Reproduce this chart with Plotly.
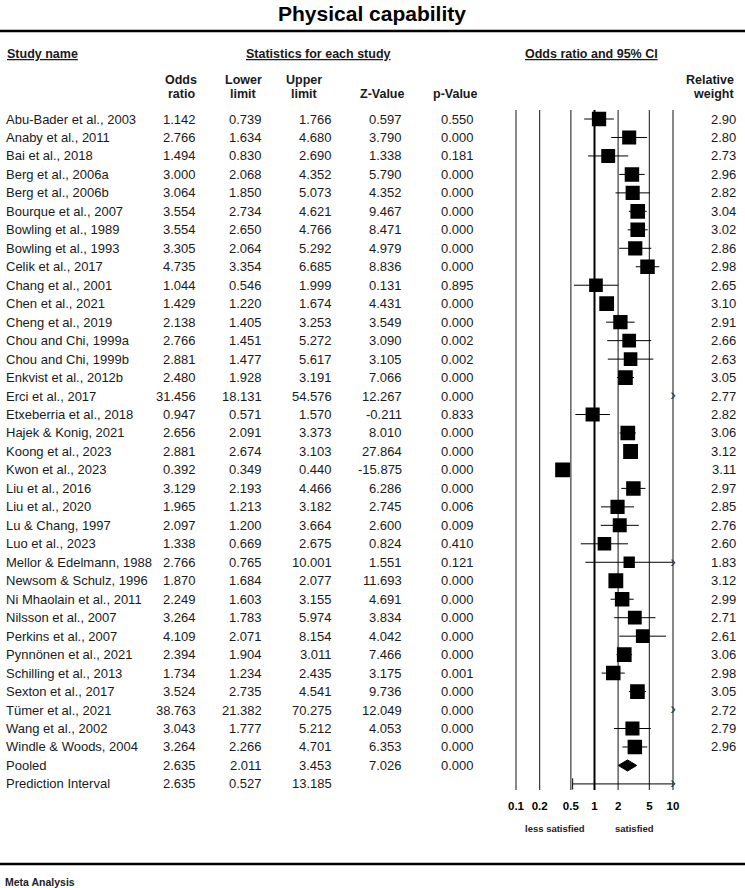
import numpy as np
import plotly.graph_objects as go

W, H = 745, 888

studies = [
    "Abu-Bader et al., 2003", "Anaby et al., 2011", "Bai et al., 2018",
    "Berg et al., 2006a", "Berg et al., 2006b", "Bourque et al., 2007",
    "Bowling et al., 1989", "Bowling et al., 1993", "Celik et al., 2017",
    "Chang et al., 2001", "Chen et al., 2021", "Cheng et al., 2019",
    "Chou and Chi, 1999a", "Chou and Chi, 1999b", "Enkvist et al., 2012b",
    "Erci et al., 2017", "Etxeberria et al., 2018", "Hajek & Konig, 2021",
    "Koong et al., 2023", "Kwon et al., 2023", "Liu et al., 2016",
    "Liu et al., 2020", "Lu & Chang, 1997", "Luo et al., 2023",
    "Mellor & Edelmann, 1988", "Newsom & Schulz, 1996", "Ni Mhaolain et al., 2011",
    "Nilsson et al., 2007", "Perkins et al., 2007", "Pynnönen et al., 2021",
    "Schilling et al., 2013", "Sexton et al., 2017", "Tümer et al., 2021",
    "Wang et al., 2002", "Windle & Woods, 2004",
]
odds_ratio = [1.142, 2.766, 1.494, 3.000, 3.064, 3.554, 3.554, 3.305, 4.735, 1.044,
              1.429, 2.138, 2.766, 2.881, 2.480, 31.456, 0.947, 2.656, 2.881, 0.392,
              3.129, 1.965, 2.097, 1.338, 2.766, 1.870, 2.249, 3.264, 4.109, 2.394,
              1.734, 3.524, 38.763, 3.043, 3.264]
lower = [0.739, 1.634, 0.830, 2.068, 1.850, 2.734, 2.650, 2.064, 3.354, 0.546,
         1.220, 1.405, 1.451, 1.477, 1.928, 18.131, 0.571, 2.091, 2.674, 0.349,
         2.193, 1.213, 1.200, 0.669, 0.765, 1.684, 1.603, 1.783, 2.071, 1.904,
         1.234, 2.735, 21.382, 1.777, 2.266]
upper = [1.766, 4.680, 2.690, 4.352, 5.073, 4.621, 4.766, 5.292, 6.685, 1.999,
         1.674, 3.253, 5.272, 5.617, 3.191, 54.576, 1.570, 3.373, 3.103, 0.440,
         4.466, 3.182, 3.664, 2.675, 10.001, 2.077, 3.155, 5.974, 8.154, 3.011,
         2.435, 4.541, 70.275, 5.212, 4.701]
z_value = [0.597, 3.790, 1.338, 5.790, 4.352, 9.467, 8.471, 4.979, 8.836, 0.131,
           4.431, 3.549, 3.090, 3.105, 7.066, 12.267, -0.211, 8.010, 27.864, -15.875,
           6.286, 2.745, 2.600, 0.824, 1.551, 11.693, 4.691, 3.834, 4.042, 7.466,
           3.175, 9.736, 12.049, 4.053, 6.353]
p_value = [0.550, 0.000, 0.181, 0.000, 0.000, 0.000, 0.000, 0.000, 0.000, 0.895,
           0.000, 0.000, 0.002, 0.002, 0.000, 0.000, 0.833, 0.000, 0.000, 0.000,
           0.000, 0.006, 0.009, 0.410, 0.121, 0.000, 0.000, 0.000, 0.000, 0.000,
           0.001, 0.000, 0.000, 0.000, 0.000]
rel_weight = [2.90, 2.80, 2.73, 2.96, 2.82, 3.04, 3.02, 2.86, 2.98, 2.65,
              3.10, 2.91, 2.66, 2.63, 3.05, 2.77, 2.82, 3.06, 3.12, 3.11,
              2.97, 2.85, 2.76, 2.60, 1.83, 3.12, 2.99, 2.71, 2.61, 3.06,
              2.98, 3.05, 2.72, 2.79, 2.96]

pooled_or, pooled_lo, pooled_hi, pooled_z, pooled_p = 2.635, 2.011, 3.453, 7.026, 0.000
pi_or, pi_lo, pi_hi = 2.635, 0.527, 13.185

x_ticks = [0.1, 0.2, 0.5, 1, 2, 5, 10]
x_tick_labels = ["0.1", "0.2", "0.5", "1", "2", "5", "10"]
x_min, x_max = 0.1, 10

# pixel geometry
ROW0, ROW_H = 119, 18.47
PLOT_L, PLOT_R = 516, 673
PAD = 0.04  # decades of padding so edge lines are not clipped
px_per_dec = (PLOT_R - PLOT_L) / 2.0

FONT = "Liberation Sans, Arial, sans-serif"
TXT = "#1a1a1a"


def row_of(py):
    return (py - ROW0) / ROW_H


def yp(py):
    return 1 - py / H


n = len(studies)
rows = np.arange(n)
pooled_row, pi_row = n, n + 1

fig = go.Figure()

# vertical reference lines
grid_top, grid_bot = row_of(110), row_of(790)
for v in x_ticks:
    fig.add_trace(go.Scatter(
        x=[v, v], y=[grid_top, grid_bot], mode="lines",
        line=dict(color="black" if v == 1 else "#3a3a3a", width=2 if v == 1 else 1.2),
        hoverinfo="skip", showlegend=False))

# confidence intervals (clipped to the axis)
lo_c = np.clip(lower, x_min, x_max)
hi_c = np.clip(upper, x_min, x_max)
xs, ys = [], []
for i in range(n):
    if lower[i] < x_max and upper[i] > x_min:
        xs += [lo_c[i], hi_c[i], None]
        ys += [rows[i], rows[i], None]
fig.add_trace(go.Scatter(x=xs, y=ys, mode="lines", line=dict(color="black", width=1),
                         hoverinfo="skip", showlegend=False))

# study squares, sized by relative weight
sizes = 8.4 * np.sqrt(rel_weight)
fig.add_trace(go.Scatter(
    x=odds_ratio, y=rows, mode="markers",
    marker=dict(symbol="square", size=sizes, color="black", opacity=1, line=dict(width=0)),
    showlegend=False))

# arrows where the interval runs off the scale
over = [i for i in range(n) if upper[i] > x_max]
fig.add_trace(go.Scatter(
    x=[x_max] * len(over) + [x_max], y=[rows[i] for i in over] + [pi_row],
    mode="text", text=["\u203a"] * (len(over) + 1),
    textfont=dict(size=17, color="#333", family=FONT), textposition="middle center",
    cliponaxis=False, hoverinfo="skip", showlegend=False))

# pooled diamond
dh = 0.3
fig.add_trace(go.Scatter(
    x=[pooled_lo, pooled_or, pooled_hi, pooled_or, pooled_lo],
    y=[pooled_row, pooled_row - dh, pooled_row, pooled_row + dh, pooled_row],
    mode="lines", fill="toself", fillcolor="black", line=dict(color="black", width=1),
    hoverinfo="skip", showlegend=False))

# prediction interval
fig.add_trace(go.Scatter(
    x=[pi_lo, min(pi_hi, x_max)], y=[pi_row, pi_row], mode="lines",
    line=dict(color="black", width=1), hoverinfo="skip", showlegend=False))
fig.add_trace(go.Scatter(
    x=[pi_lo], y=[pi_row], mode="markers",
    marker=dict(symbol="line-ns", size=8, line=dict(color="black", width=1)),
    hoverinfo="skip", showlegend=False))

# axis labels under the forest plot
fig.add_trace(go.Scatter(
    x=x_ticks, y=[row_of(807)] * len(x_ticks), mode="text", text=x_tick_labels,
    textfont=dict(size=11.5, color="black", family=FONT, weight="bold"),
    textposition="middle center", cliponaxis=False, hoverinfo="skip", showlegend=False))

ann = []


def add_text(x, y, text, xanchor="left", size=13, bold=False, yref="y", color=TXT):
    ann.append(dict(
        x=x / W, xref="paper", y=(yp(y) if yref == "paper" else y), yref=yref,
        text=f"<b>{text}</b>" if bold else text, showarrow=False,
        xanchor=xanchor, yanchor="middle",
        font=dict(size=size, color=color, family=FONT)))


# titles and headers
add_text(372, 14, "Physical capability", "center", size=21, bold=True, yref="paper", color="black")
add_text(5, 54, "<u>Study name</u>", "left", size=12.5, bold=True, yref="paper")
add_text(318, 54, "<u>Statistics for each study</u>", "center", size=12.5, bold=True, yref="paper")
add_text(591, 54, "<u>Odds ratio and 95% CI</u>", "center", size=12.5, bold=True, yref="paper")

col_heads = [(181, "Odds", "ratio"), (243, "Lower", "limit"), (304, "Upper", "limit"),
             (382, "", "Z-Value"), (455, "", "p-Value")]
for cx, l1, l2 in col_heads:
    if l1:
        add_text(cx, 80, l1, "center", size=12.5, bold=True, yref="paper")
    add_text(cx, 94, l2, "center", size=12.5, bold=True, yref="paper")
add_text(736, 80, "Relative", "right", size=12.5, bold=True, yref="paper")
add_text(736, 94, "weight", "right", size=12.5, bold=True, yref="paper")

# table body
COL_R = dict(or_=198, lo=264, hi=334, z=404, p=476, w=738)
for i in range(n):
    add_text(4, rows[i], studies[i])
    add_text(COL_R["or_"], rows[i], f"{odds_ratio[i]:.3f}", "right")
    add_text(COL_R["lo"], rows[i], f"{lower[i]:.3f}", "right")
    add_text(COL_R["hi"], rows[i], f"{upper[i]:.3f}", "right")
    add_text(COL_R["z"], rows[i], f"{z_value[i]:.3f}", "right")
    add_text(COL_R["p"], rows[i], f"{p_value[i]:.3f}", "right")
    add_text(COL_R["w"], rows[i], f"{rel_weight[i]:.2f}", "right")

add_text(4, pooled_row, "Pooled")
add_text(COL_R["or_"], pooled_row, f"{pooled_or:.3f}", "right")
add_text(COL_R["lo"], pooled_row, f"{pooled_lo:.3f}", "right")
add_text(COL_R["hi"], pooled_row, f"{pooled_hi:.3f}", "right")
add_text(COL_R["z"], pooled_row, f"{pooled_z:.3f}", "right")
add_text(COL_R["p"], pooled_row, f"{pooled_p:.3f}", "right")

add_text(4, pi_row, "Prediction Interval")
add_text(COL_R["or_"], pi_row, f"{pi_or:.3f}", "right")
add_text(COL_R["lo"], pi_row, f"{pi_lo:.3f}", "right")
add_text(COL_R["hi"], pi_row, f"{pi_hi:.3f}", "right")

add_text(555, 828, "less satisfied", "center", size=9.5, bold=True, yref="paper", color="#222")
add_text(634, 828, "satisfied", "center", size=9.5, bold=True, yref="paper", color="#222")
add_text(3, 882, "Meta Analysis", "left", size=10.5, bold=True, yref="paper", color="#222")

shapes = [
    dict(type="line", xref="paper", yref="paper", x0=0, x1=1, y0=yp(31), y1=yp(31),
         line=dict(color="black", width=2.5)),
    dict(type="line", xref="paper", yref="paper", x0=0, x1=1, y0=yp(864), y1=yp(864),
         line=dict(color="black", width=2.5)),
]

dom_l = (PLOT_L - PAD * px_per_dec) / W
dom_r = (PLOT_R + PAD * px_per_dec) / W

fig.update_layout(
    width=W, height=H, margin=dict(l=0, r=0, t=0, b=0),
    paper_bgcolor="white", plot_bgcolor="white",
    annotations=ann, shapes=shapes, showlegend=False,
    xaxis=dict(type="log", range=[np.log10(x_min) - PAD, np.log10(x_max) + PAD],
               domain=[dom_l, dom_r], visible=False, fixedrange=True),
    yaxis=dict(range=[row_of(H), row_of(0)], domain=[0, 1], visible=False, fixedrange=True),
)

fig.write_html("out.html", config={"displayModeBar": False},
               post_script="document.body.style.margin='0';document.body.style.overflow='hidden';")
